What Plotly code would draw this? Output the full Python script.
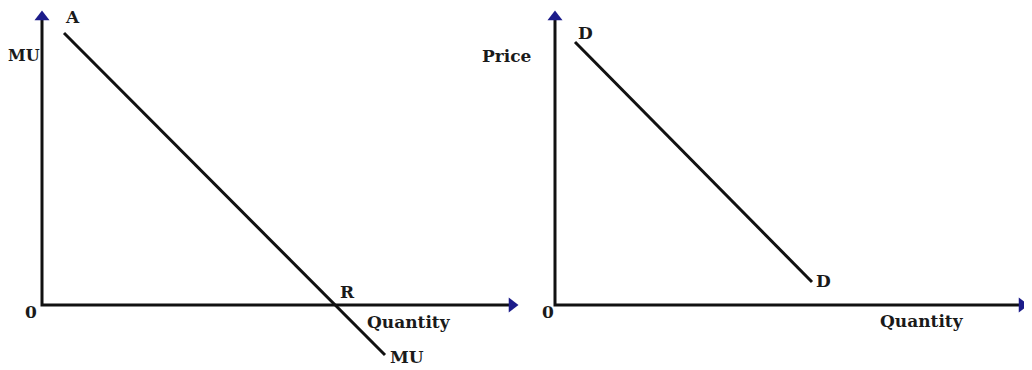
import plotly.graph_objects as go

# ---- data (units: arbitrary quantity / value units) ----
mu_x = [2.2, 34.3]          # MU curve: from A down past R
mu_y = [27.2, -5.0]
d_x = [2.0, 25.7]           # demand curve D-D
d_y = [26.3, 2.3]
axis_len_left = [47.8, 29.6]   # x-axis end, y-axis end (left panel)
axis_len_right = [47.5, 29.6]  # (right panel)

left_labels = ["A", "MU", "0", "R", "Quantity", "MU"]
right_labels = ["Price", "D", "0", "D", "Quantity"]

BLACK = "#111111"
NAVY = "#1c1c8a"
FONT = dict(family="DejaVu Serif", size=17, color="#1a1a1a")

fig = go.Figure()

def add_axes(xa, ya, xlen, ylen):
    fig.add_trace(go.Scatter(x=[0, 0, xlen - 1.0], y=[ylen - 1.0, 0, 0], mode="lines",
                             line=dict(color=BLACK, width=3), xaxis=xa, yaxis=ya,
                             hoverinfo="skip", showlegend=False))
    fig.add_trace(go.Scatter(x=[0], y=[ylen - 0.8], mode="markers",
                             marker=dict(symbol="triangle-up", size=13, color=NAVY),
                             xaxis=xa, yaxis=ya, hoverinfo="skip", showlegend=False))
    fig.add_trace(go.Scatter(x=[xlen - 0.8], y=[0], mode="markers",
                             marker=dict(symbol="triangle-right", size=13, color=NAVY),
                             xaxis=xa, yaxis=ya, hoverinfo="skip", showlegend=False))

add_axes("x", "y", *axis_len_left)
add_axes("x2", "y2", *axis_len_right)

fig.add_trace(go.Scatter(x=mu_x, y=mu_y, mode="lines", line=dict(color=BLACK, width=3),
                         xaxis="x", yaxis="y", hoverinfo="skip", showlegend=False))
fig.add_trace(go.Scatter(x=d_x, y=d_y, mode="lines", line=dict(color=BLACK, width=3),
                         xaxis="x2", yaxis="y2", hoverinfo="skip", showlegend=False))

left_pos = [(3.0, 28.8), (-1.85, 25.0), (-1.1, -0.7), (30.6, 1.3), (36.7, -1.7), (36.5, -5.2)]
right_pos = [(-4.8, 24.9), (3.0, 27.2), (-0.7, -0.7), (26.8, 2.4), (36.7, -1.6)]
left_sizes = [17, 16, 17, 17, 17, 17]

anns = []
for t, (x, y), s in zip(left_labels, left_pos, left_sizes):
    anns.append(dict(x=x, y=y, xref="x", yref="y", text="<b>%s</b>" % t, showarrow=False,
                     font=dict(FONT, size=s), xanchor="center", yanchor="middle"))
for t, (x, y) in zip(right_labels, right_pos):
    anns.append(dict(x=x, y=y, xref="x2", yref="y2", text="<b>%s</b>" % t, showarrow=False,
                     font=FONT, xanchor="center", yanchor="middle"))

hidden = dict(visible=False, showgrid=False, zeroline=False, fixedrange=True)
# page body has an 8px margin, so the figure is 1024x362 and ranges are offset accordingly
fig.update_layout(
    width=1024, height=362,
    margin=dict(l=0, r=0, t=0, b=0),
    paper_bgcolor="white", plot_bgcolor="rgba(0,0,0,0)",
    xaxis=dict(domain=[0, 0.52], range=[-3.4, 49.85], **hidden),
    yaxis=dict(domain=[0, 1], range=[-6.5, 29.7], **hidden),
    xaxis2=dict(domain=[0.48, 1], range=[-5.548, 47.7], **hidden),
    yaxis2=dict(domain=[0, 1], range=[-6.5, 29.7], anchor="x2", **hidden),
    annotations=anns,
    showlegend=False,
)

fig.write_html("out.html")
